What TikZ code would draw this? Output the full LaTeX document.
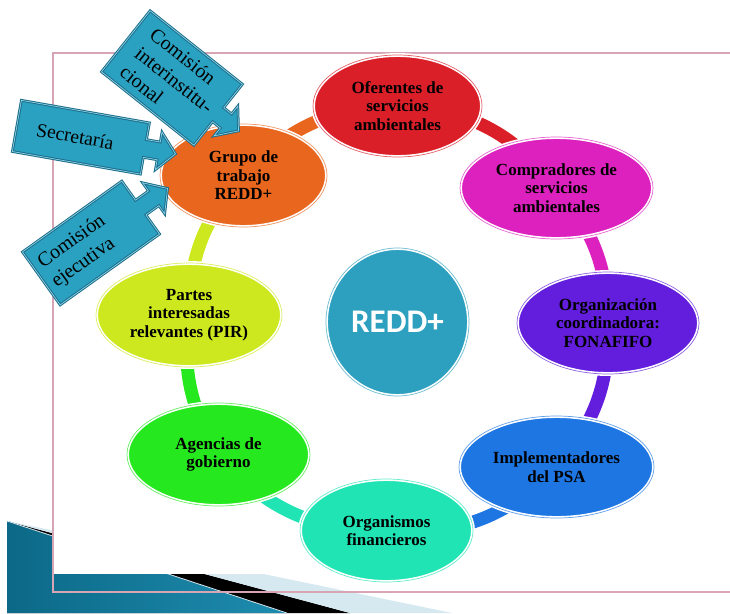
\documentclass[tikz,border=0pt]{standalone}
\usepackage{fontspec}
\setmainfont{Liberation Serif}
\newfontfamily\calfont{Carlito}
\usetikzlibrary{shapes.geometric}
\pgfdeclarelayer{bg}
\pgfdeclarelayer{ring}
\pgfsetlayers{bg,ring,main}
\definecolor{cOrange}{RGB}{232,102,30}
\definecolor{cRed}{RGB}{218,31,41}
\definecolor{cMagenta}{RGB}{221,33,190}
\definecolor{cPurple}{RGB}{98,30,220}
\definecolor{cBlue}{RGB}{30,118,226}
\definecolor{cTeal}{RGB}{32,228,180}
\definecolor{cGreen}{RGB}{37,232,30}
\definecolor{cLime}{RGB}{205,232,30}
\definecolor{cCore}{RGB}{44,160,190}
\definecolor{cCall}{RGB}{43,161,193}
\definecolor{cCallDark}{RGB}{28,110,140}
\definecolor{cCallLight}{RGB}{140,210,228}
\definecolor{cFrame}{RGB}{215,165,180}
\definecolor{cDecoDark}{RGB}{12,105,135}
\definecolor{cDecoLight}{RGB}{85,185,212}
\definecolor{cDecoRight}{RGB}{30,140,175}
\definecolor{cDecoPale}{RGB}{214,232,240}
\tikzset{
  bubble/.style={ellipse, fill=#1, draw=white, line width=1.6pt,
    double=#1!70!white, double distance=0.7pt, inner sep=0pt,
    align=center, text=black, font=\bfseries\fontsize{17}{18.5}\selectfont},
  conn/.style={draw=#1, line width=13pt},
  callbox/.style={fill=cCall, draw=cCallDark, line width=1pt,
    double=cCallLight, double distance=0.7pt, line join=miter},
  calltext/.style={inner sep=0pt, align=left, anchor=west, transform shape,
    text=black, font=\fontsize{20}{24}\selectfont}
}
\begin{document}
\begin{tikzpicture}[x=1pt, y=-1pt]
\useasboundingbox (0,0) rectangle (730,613);
\begin{pgfonlayer}{bg}
  \fill[white] (0,0) rectangle (730,613);
  % decoration at the bottom left
  \fill[left color=cDecoDark, middle color=cDecoLight, right color=cDecoRight]
    (7,521) -- (287,613) -- (7,613) -- cycle;
  \fill[black] (7,521) -- (287,613) -- (350,613) -- cycle;
  \fill[cDecoPale] (7,521) -- (350,613) -- (452,613) -- cycle;
  \draw[cDecoPale, line width=0.8pt] (7,521) -- (287,613);
  % white slide area and frame
  \fill[white] (53,53) rectangle (730,574);
  \draw[cFrame, line width=1.2pt] (53,53) rectangle (745,592);
\end{pgfonlayer}

% nodes of the cycle
\node[bubble=cOrange,  minimum width=167pt, minimum height=103pt] (grupo)  at (243.5,175.5) {Grupo de\\trabajo\\REDD+};
\node[bubble=cRed,     minimum width=169pt, minimum height=102pt] (ofer)   at (397.5,106)   {Oferentes de\\servicios\\ambientales};
\node[bubble=cMagenta, minimum width=193pt, minimum height=102pt] (comp)   at (556.5,188)   {Compradores de\\servicios\\ambientales};
\node[bubble=cPurple,  minimum width=182pt, minimum height=102pt] (org)    at (608,323)     {Organización\\coordinadora:\\FONAFIFO};
\node[bubble=cBlue,    minimum width=195pt, minimum height=102pt] (impl)   at (556.5,467)   {Implementadores\\del PSA};
\node[bubble=cTeal,    minimum width=173pt, minimum height=103pt] (organ)  at (386.5,530.5) {Organismos\\financieros};
\node[bubble=cGreen,   minimum width=183pt, minimum height=103pt] (agen)   at (218.5,454.5) {Agencias de\\gobierno};
\node[bubble=cLime,    minimum width=186pt, minimum height=104pt] (partes) at (189,315)     {Partes\\interesadas\\relevantes (PIR)};
\node[bubble=cCore, minimum width=143pt, minimum height=148pt,
      text=white, font=\calfont\bfseries\fontsize{33}{40}\selectfont] (core) at (397.5,322) {REDD+};

% ring connectors
\begin{pgfonlayer}{ring}
  \draw[conn=cOrange]  (grupo.center)  to[bend left=23] (ofer.center);
  \draw[conn=cRed]     (ofer.center)   to[bend left=25] (comp.center);
  \draw[conn=cMagenta] (comp.center)   to[bend left=20] (org.center);
  \draw[conn=cPurple]  (org.center)    to[bend left=21] (impl.center);
  \draw[conn=cBlue]    (impl.center)   to[bend left=25] (organ.center);
  \draw[conn=cTeal]    (organ.center)  to[bend left=25] (agen.center);
  \draw[conn=cGreen]   (agen.center)   to[bend left=19] (partes.center);
  \draw[conn=cLime]    (partes.center) to[bend left=21] (grupo.center);
\end{pgfonlayer}

% callouts
\begin{scope}[shift={(172,78)}, rotate=-38.5]
  \path[callbox] (-59,-39) -- (59,-39) -- (59,-9) -- (69,-9) -- (69,-19) -- (85,0)
    -- (69,19) -- (69,9) -- (59,9) -- (59,39) -- (-59,39) -- cycle;
  \node[calltext] (interText) at (-44,0) {Comisión\\interinstitu-\\cional};
\end{scope}
\begin{scope}[shift={(80.9,137.2)}, rotate=-10]
  \path[callbox] (-65,-26) -- (65,-26) -- (65,-9) -- (79,-9) -- (79,-19) -- (96,0)
    -- (79,19) -- (79,9) -- (65,9) -- (65,26) -- (-65,26) -- cycle;
  \node[calltext, font=\fontsize{19.5}{24}\selectfont] (secText) at (-45,0) {Secretaría};
\end{scope}
\begin{scope}[shift={(91,243)}, rotate=35.5]
  \path[callbox] (-61,-32.5) -- (61,-32.5) -- (61,-9) -- (77,-9) -- (77,-19) -- (94,0)
    -- (77,19) -- (77,9) -- (61,9) -- (61,32.5) -- (-61,32.5) -- cycle;
  \node[calltext] (ejeText) at (-54,0) {Comisión\\ejecutiva};
\end{scope}
\end{tikzpicture}
\end{document}
